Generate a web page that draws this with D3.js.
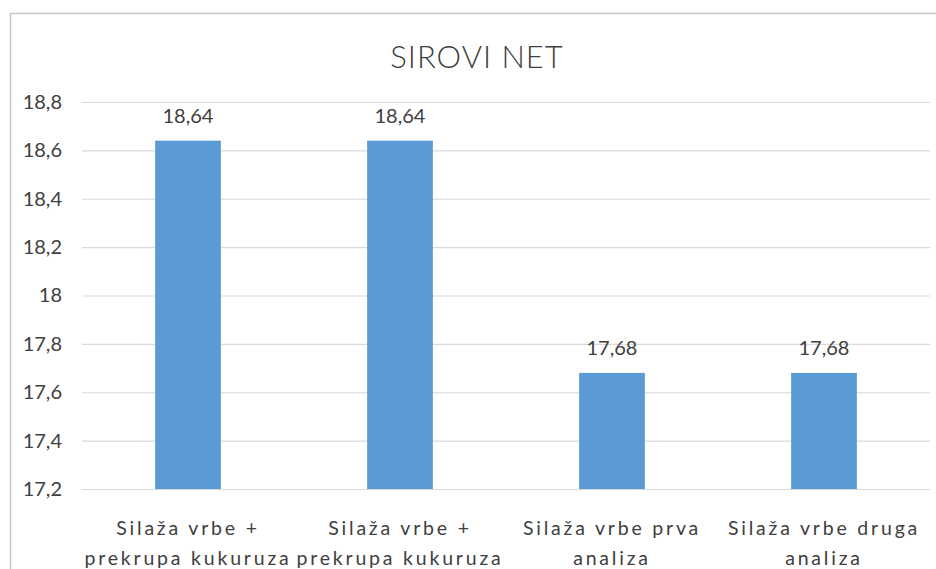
<!DOCTYPE html>
<html>
<head>
<meta charset="utf-8">
<script src="https://cdn.jsdelivr.net/npm/d3@7"></script>
<style>
  body { margin: 0; background: #fff; }
  svg { font-family: Lato, "Open Sans", sans-serif; }
</style>
</head>
<body>
<svg width="936" height="569"></svg>
<script>
const categories = [
  ["Silaža vrbe +", "prekrupa kukuruza"],
  ["Silaža vrbe +", "prekrupa kukuruza"],
  ["Silaža vrbe prva", "analiza"],
  ["Silaža vrbe druga", "analiza"]
];
const values = [18.64, 18.64, 17.68, 17.68];
const yTicks = [17.2, 17.4, 17.6, 17.8, 18, 18.2, 18.4, 18.6, 18.8];
const title = "SIROVI NET";

const svg = d3.select("svg"),
  margin = { top: 102, right: 6, bottom: 80, left: 82 },
  width = +svg.attr("width") - margin.left - margin.right,
  height = +svg.attr("height") - margin.top - margin.bottom;

const fmt = v => String(v).replace(".", ",");

// chart border (runs off the right and bottom edges)
svg.append("rect")
  .attr("x", 10.5).attr("y", 13.5)
  .attr("width", 960).attr("height", 600)
  .attr("fill", "none")
  .attr("stroke", "#c8c8c8")
  .attr("stroke-width", 1.5);

svg.append("text")
  .attr("x", 477).attr("y", 68)
  .attr("text-anchor", "middle")
  .attr("font-size", 31)
  .attr("font-weight", 300)
  .attr("letter-spacing", 1)
  .attr("fill", "#404040")
  .text(title);

const x = d3.scaleBand()
  .domain(d3.range(categories.length))
  .range([0, width]);

const y = d3.scaleLinear()
  .domain([17.2, 18.8])
  .range([height, 0]);

const g = svg.append("g")
  .attr("transform", "translate(" + margin.left + "," + margin.top + ")");

// gridlines
g.append("g")
  .call(d3.axisLeft(y).tickValues(yTicks).tickSize(-width).tickFormat(""))
  .call(s => s.select(".domain").remove())
  .call(s => s.selectAll("line").attr("stroke", "#d9d9d9").attr("stroke-width", 1.2));

// y labels
g.append("g")
  .call(d3.axisLeft(y).tickValues(yTicks).tickSize(0).tickPadding(20).tickFormat(fmt))
  .call(s => s.select(".domain").remove())
  .call(s => s.selectAll("text")
    .attr("font-size", 20)
    .attr("fill", "#404040")
    .attr("font-family", "Lato, sans-serif"));

const barW = x.bandwidth() * 0.31;

g.selectAll(".bar")
  .data(values)
  .enter()
  .append("rect")
  .attr("class", "bar")
  .attr("x", (d, i) => x(i) + (x.bandwidth() - barW) / 2)
  .attr("y", d => y(d))
  .attr("width", barW)
  .attr("height", d => y(17.2) - y(d))
  .attr("fill", "#5b9bd5");

g.selectAll(".val")
  .data(values)
  .enter()
  .append("text")
  .attr("class", "val")
  .attr("x", (d, i) => x(i) + x.bandwidth() / 2)
  .attr("y", d => y(d) - 18)
  .attr("text-anchor", "middle")
  .attr("font-size", 20)
  .attr("fill", "#404040")
  .text(fmt);

const cat = g.selectAll(".cat")
  .data(categories)
  .enter()
  .append("text")
  .attr("class", "cat")
  .attr("text-anchor", "middle")
  .attr("font-size", 19.5)
  .attr("letter-spacing", 2.8)
  .attr("fill", "#404040");

cat.selectAll("tspan")
  .data((d, i) => d.map(t => ({ t, i })))
  .enter()
  .append("tspan")
  .attr("x", d => x(d.i) + x.bandwidth() / 2)
  .attr("y", (d, j) => y(17.2) + 46 + j * 30)
  .text(d => d.t);
</script>
</body>
</html>
